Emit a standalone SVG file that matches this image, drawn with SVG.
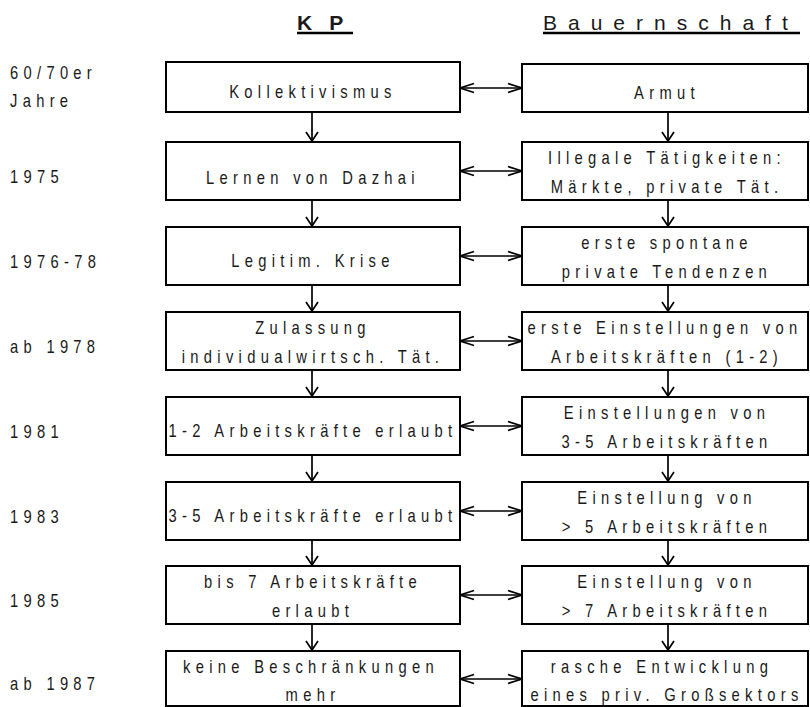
<svg xmlns="http://www.w3.org/2000/svg" width="810" height="707" viewBox="0 0 810 707">
<style>
.box{fill:#fff;stroke:#000;stroke-width:2}
.t{font-family:"Liberation Sans",Arial,sans-serif;font-size:18px;fill:#1a1a1a;letter-spacing:6.46px}
.c{text-anchor:middle}
.h{font-family:"Liberation Sans",Arial,sans-serif;font-size:21px;fill:#1a1a1a}
.ln{stroke:#000;stroke-width:1.7;fill:none}
.ul{stroke:#000;stroke-width:2.4}
</style>
<defs>
<marker id="ah" markerUnits="userSpaceOnUse" markerWidth="16" markerHeight="12" refX="14" refY="5.5" orient="auto-start-reverse" overflow="visible">
<path d="M0,1 L14,5.5 L0,10" fill="none" stroke="#000" stroke-width="1.7"/>
</marker>
<marker id="av" markerUnits="userSpaceOnUse" markerWidth="12" markerHeight="14" refX="9" refY="6" orient="auto" overflow="visible">
<path d="M0,0 L9,6 L0,12" fill="none" stroke="#000" stroke-width="1.7"/>
</marker>
</defs>
<rect width="810" height="707" fill="#fff"/>

<g id="headers">
<text class="h" x="297" y="30" font-weight="bold" letter-spacing="17">KP</text>
<line class="ul" x1="297" y1="33" x2="353" y2="33"/>
<text class="h" x="543" y="30" letter-spacing="11">Bauernschaft</text>
<line class="ul" x1="543" y1="33" x2="800" y2="33"/>
</g>

<g id="years">
<text class="t" transform="translate(10,79) scale(0.82,1)">60/70er</text>
<text class="t" transform="translate(10,107) scale(0.82,1)">Jahre</text>
<text class="t" transform="translate(10,183) scale(0.82,1)">1975</text>
<text class="t" transform="translate(10,268) scale(0.82,1)">1976-78</text>
<text class="t" transform="translate(10,353) scale(0.82,1)">ab 1978</text>
<text class="t" transform="translate(10,438) scale(0.82,1)">1981</text>
<text class="t" transform="translate(10,523) scale(0.82,1)">1983</text>
<text class="t" transform="translate(10,607) scale(0.82,1)">1985</text>
<text class="t" transform="translate(10,690) scale(0.82,1)">ab 1987</text>
</g>

<g id="connectors">
<line class="ln" x1="460" y1="88" x2="522" y2="88" marker-start="url(#ah)" marker-end="url(#ah)"/>
<line class="ln" x1="460" y1="171" x2="522" y2="171" marker-start="url(#ah)" marker-end="url(#ah)"/>
<line class="ln" x1="460" y1="256" x2="522" y2="256" marker-start="url(#ah)" marker-end="url(#ah)"/>
<line class="ln" x1="460" y1="341" x2="522" y2="341" marker-start="url(#ah)" marker-end="url(#ah)"/>
<line class="ln" x1="460" y1="426" x2="522" y2="426" marker-start="url(#ah)" marker-end="url(#ah)"/>
<line class="ln" x1="460" y1="511" x2="522" y2="511" marker-start="url(#ah)" marker-end="url(#ah)"/>
<line class="ln" x1="460" y1="595" x2="522" y2="595" marker-start="url(#ah)" marker-end="url(#ah)"/>
<line class="ln" x1="460" y1="679" x2="522" y2="679" marker-start="url(#ah)" marker-end="url(#ah)"/>

<line class="ln" x1="312" y1="112" x2="312" y2="141" marker-end="url(#av)"/>
<line class="ln" x1="312" y1="200" x2="312" y2="226" marker-end="url(#av)"/>
<line class="ln" x1="312" y1="285" x2="312" y2="311" marker-end="url(#av)"/>
<line class="ln" x1="312" y1="370" x2="312" y2="396" marker-end="url(#av)"/>
<line class="ln" x1="312" y1="455" x2="312" y2="481" marker-end="url(#av)"/>
<line class="ln" x1="312" y1="540" x2="312" y2="565" marker-end="url(#av)"/>
<line class="ln" x1="312" y1="624" x2="312" y2="650" marker-end="url(#av)"/>

<line class="ln" x1="668" y1="112" x2="668" y2="141" marker-end="url(#av)"/>
<line class="ln" x1="668" y1="200" x2="668" y2="226" marker-end="url(#av)"/>
<line class="ln" x1="668" y1="285" x2="668" y2="311" marker-end="url(#av)"/>
<line class="ln" x1="668" y1="370" x2="668" y2="396" marker-end="url(#av)"/>
<line class="ln" x1="668" y1="455" x2="668" y2="481" marker-end="url(#av)"/>
<line class="ln" x1="668" y1="540" x2="668" y2="565" marker-end="url(#av)"/>
<line class="ln" x1="668" y1="624" x2="668" y2="650" marker-end="url(#av)"/>
</g>

<g id="kp1"><rect class="box" x="166" y="62" width="294" height="50"/>
<text class="t c" transform="translate(313,98) scale(0.82,1)">Kollektivismus</text></g>
<g id="b1"><rect class="box" x="522" y="64" width="286" height="48"/>
<text class="t c" transform="translate(667,99) scale(0.82,1)">Armut</text></g>

<g id="kp2"><rect class="box" x="166" y="142" width="294" height="58"/>
<text class="t c" transform="translate(313,184) scale(0.82,1)">Lernen von Dazhai</text></g>
<g id="b2"><rect class="box" x="522" y="142" width="286" height="58"/>
<text class="t c" transform="translate(667,164) scale(0.82,1)">Illegale Tätigkeiten:</text>
<text class="t c" transform="translate(667,193) scale(0.82,1)">Märkte, private Tät.</text></g>

<g id="kp3"><rect class="box" x="166" y="227" width="294" height="58"/>
<text class="t c" transform="translate(313,267) scale(0.82,1)">Legitim. Krise</text></g>
<g id="b3"><rect class="box" x="522" y="227" width="286" height="58"/>
<text class="t c" transform="translate(667,249) scale(0.82,1)">erste spontane</text>
<text class="t c" transform="translate(667,278) scale(0.82,1)">private Tendenzen</text></g>

<g id="kp4"><rect class="box" x="166" y="312" width="294" height="58"/>
<text class="t c" transform="translate(313,334) scale(0.82,1)">Zulassung</text>
<text class="t c" transform="translate(313,363) scale(0.82,1)">individualwirtsch. Tät.</text></g>
<g id="b4"><rect class="box" x="522" y="312" width="286" height="58"/>
<text class="t c" transform="translate(665,334) scale(0.82,1)">erste Einstellungen von</text>
<text class="t c" transform="translate(667,363) scale(0.82,1)">Arbeitskräften (1-2)</text></g>

<g id="kp5"><rect class="box" x="166" y="397" width="294" height="58"/>
<text class="t c" transform="translate(313,437) scale(0.82,1)">1-2 Arbeitskräfte erlaubt</text></g>
<g id="b5"><rect class="box" x="522" y="397" width="286" height="58"/>
<text class="t c" transform="translate(667,419) scale(0.82,1)">Einstellungen von</text>
<text class="t c" transform="translate(667,448) scale(0.82,1)">3-5 Arbeitskräften</text></g>

<g id="kp6"><rect class="box" x="166" y="482" width="294" height="58"/>
<text class="t c" transform="translate(313,522) scale(0.82,1)">3-5 Arbeitskräfte erlaubt</text></g>
<g id="b6"><rect class="box" x="522" y="482" width="286" height="58"/>
<text class="t c" transform="translate(667,504) scale(0.82,1)">Einstellung von</text>
<text class="t c" transform="translate(667,533) scale(0.82,1)">&gt; 5 Arbeitskräften</text></g>

<g id="kp7"><rect class="box" x="166" y="566" width="294" height="58"/>
<text class="t c" transform="translate(313,588) scale(0.82,1)">bis 7 Arbeitskräfte</text>
<text class="t c" transform="translate(313,617) scale(0.82,1)">erlaubt</text></g>
<g id="b7"><rect class="box" x="522" y="566" width="286" height="58"/>
<text class="t c" transform="translate(667,588) scale(0.82,1)">Einstellung von</text>
<text class="t c" transform="translate(667,617) scale(0.82,1)">&gt; 7 Arbeitskräften</text></g>

<g id="kp8"><rect class="box" x="166" y="651" width="294" height="55"/>
<text class="t c" transform="translate(311,673) scale(0.82,1)">keine Beschränkungen</text>
<text class="t c" transform="translate(313,701) scale(0.82,1)">mehr</text></g>
<g id="b8"><rect class="box" x="522" y="651" width="286" height="55"/>
<text class="t c" transform="translate(662,673) scale(0.82,1)">rasche Entwicklung</text>
<text class="t c" transform="translate(667,701) scale(0.82,1)">eines priv. Großsektors</text></g>
</svg>
